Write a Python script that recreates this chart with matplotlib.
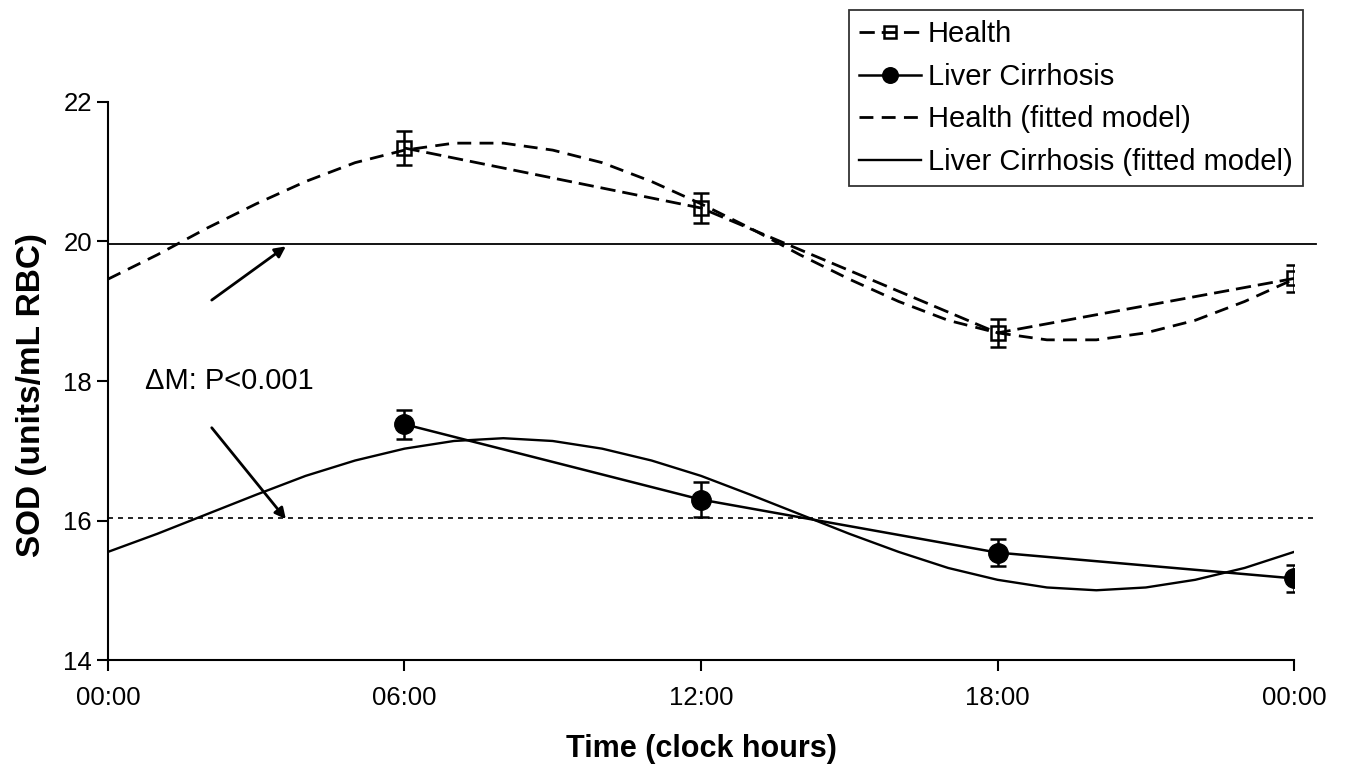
import matplotlib
matplotlib.use("Agg")
import matplotlib.pyplot as plt

plt.rcParams['font.family'] = ['Liberation Sans', 'DejaVu Sans']

# sampling times of the observed means (hours)
clock = [6, 12, 18, 24]
tick_hours = [0, 6, 12, 18, 24]
tick_labels = ['00:00', '06:00', '12:00', '18:00', '00:00']

health = [21.34, 20.48, 18.69, 19.47]
health_err = [0.25, 0.21, 0.20, 0.20]
cirrhosis = [17.38, 16.30, 15.54, 15.17]
cirrhosis_err = [0.21, 0.25, 0.19, 0.19]

fit_hours = list(range(25))
health_fit = [19.46, 19.81, 20.19, 20.54, 20.86, 21.13, 21.31, 21.41, 21.41,
              21.31, 21.13, 20.86, 20.54, 20.19, 19.81, 19.46, 19.14, 18.87,
              18.69, 18.59, 18.59, 18.69, 18.87, 19.14, 19.46]
cirrhosis_fit = [15.55, 15.81, 16.09, 16.37, 16.64, 16.86, 17.03, 17.14, 17.18,
                 17.14, 17.03, 16.86, 16.64, 16.37, 16.09, 15.81, 15.55, 15.32,
                 15.15, 15.04, 15.00, 15.04, 15.15, 15.32, 15.55]

# mesor lines
health_mesor = 19.96
cirrhosis_mesor = 16.03
mesor_span = [0, 24.45]

fig = plt.figure(figsize=(13.46, 7.68), dpi=100)
ax = fig.add_axes([0.0802, 0.1406, 0.8812, 0.7266])

ax.plot(mesor_span, [health_mesor] * 2, color='black', lw=1.3, clip_on=False)
ax.plot(mesor_span, [cirrhosis_mesor] * 2, color='black', lw=1.2,
        dashes=(3, 3), clip_on=False)

h_fit, = ax.plot(fit_hours, health_fit, color='black', lw=2.0, dashes=(5, 3),
                 label='Health (fitted model)')
c_fit, = ax.plot(fit_hours, cirrhosis_fit, color='black', lw=1.7,
                 label='Liver Cirrhosis (fitted model)')

ax.errorbar(clock, health, yerr=health_err, fmt='none', ecolor='black',
            elinewidth=1.8, capsize=6, capthick=1.8)
ax.errorbar(clock, cirrhosis, yerr=cirrhosis_err, fmt='none', ecolor='black',
            elinewidth=1.8, capsize=6, capthick=1.8)

h_obs, = ax.plot(clock, health, color='black', lw=2.0, dashes=(5.5, 2.5),
                 marker='s', markersize=10, markerfacecolor='none',
                 markeredgewidth=1.8, label='Health')
c_obs, = ax.plot(clock, cirrhosis, color='black', lw=1.8, marker='o',
                 markersize=14, markerfacecolor='black', label='Liver Cirrhosis')

ax.text(0.75, 18.0, '\u0394M: P<0.001', fontsize=21, va='center', ha='left')
arrow = dict(arrowstyle='-|>', color='black', lw=2, mutation_scale=16,
             shrinkA=0, shrinkB=0)
ax.annotate('', xy=(3.6, 19.93), xytext=(2.1, 19.16), arrowprops=arrow)
ax.annotate('', xy=(3.6, 16.02), xytext=(2.1, 17.33), arrowprops=arrow)

ax.set_xlim(0, 24)
ax.set_ylim(14, 22)
ax.set_xticks(tick_hours)
ax.set_xticklabels(tick_labels)
ax.set_yticks([14, 16, 18, 20, 22])
ax.tick_params(axis='both', labelsize=18.5, length=8, width=1.5, direction='out',
               colors='black')
ax.tick_params(axis='x', pad=11)
for side in ['top', 'right']:
    ax.spines[side].set_visible(False)
for side in ['left', 'bottom']:
    ax.spines[side].set_linewidth(1.5)

ax.set_xlabel('Time (clock hours)', fontsize=22, fontweight='bold', labelpad=17)
ax.set_ylabel('SOD (units/mL RBC)', fontsize=24, fontweight='bold')
ax.yaxis.set_label_coords(-0.051, 0.475)

leg = fig.legend(handles=[h_obs, c_obs, h_fit, c_fit], loc='upper right',
                 bbox_to_anchor=(0.968, 0.987), borderaxespad=0, fontsize=21,
                 frameon=True, fancybox=False, edgecolor='black',
                 handlelength=2.1, labelspacing=0.5, borderpad=0.35,
                 handletextpad=0.25, markerscale=0.8)
leg.get_frame().set_linewidth(1.3)

fig.savefig('out.png', dpi=100, facecolor='white')
